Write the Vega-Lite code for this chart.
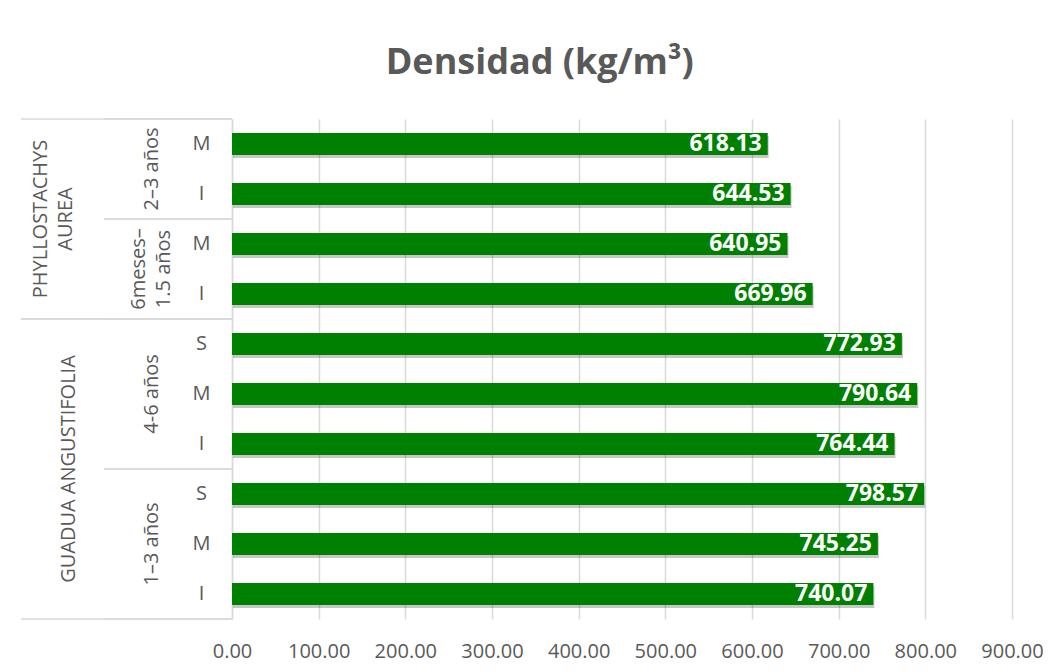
{
  "$schema": "https://vega.github.io/schema/vega-lite/v6.json",
  "background": "white",
  "padding": {"left": 20, "top": 45, "right": 20, "bottom": 10},
  "bounds": "flush",
  "spacing": 0,
  "title": {"text": "Densidad (kg/m³)", "font": "Open Sans", "fontSize": 36, "fontWeight": "bold", "color": "#595959", "anchor": "middle", "offset": 36, "dx": 8},
  "datasets": {
    "filas": [
      {"especie": "PHYLLOSTACHYS AUREA", "edad": "2–3 años", "parte": "M", "densidad": 618.13},
      {"especie": "PHYLLOSTACHYS AUREA", "edad": "2–3 años", "parte": "I", "densidad": 644.53},
      {"especie": "PHYLLOSTACHYS AUREA", "edad": "6meses–1.5 años", "parte": "M", "densidad": 640.95},
      {"especie": "PHYLLOSTACHYS AUREA", "edad": "6meses–1.5 años", "parte": "I", "densidad": 669.96},
      {"especie": "GUADUA ANGUSTIFOLIA", "edad": "4-6 años", "parte": "S", "densidad": 772.93},
      {"especie": "GUADUA ANGUSTIFOLIA", "edad": "4-6 años", "parte": "M", "densidad": 790.64},
      {"especie": "GUADUA ANGUSTIFOLIA", "edad": "4-6 años", "parte": "I", "densidad": 764.44},
      {"especie": "GUADUA ANGUSTIFOLIA", "edad": "1–3 años", "parte": "S", "densidad": 798.57},
      {"especie": "GUADUA ANGUSTIFOLIA", "edad": "1–3 años", "parte": "M", "densidad": 745.25},
      {"especie": "GUADUA ANGUSTIFOLIA", "edad": "1–3 años", "parte": "I", "densidad": 740.07}
    ],
    "grupos": [
      {"nivel": "especie", "texto": "PHYLLOSTACHYS\nAUREA", "primera": "2–3 años|M", "ultima": "6meses–1.5 años|I", "ancla": "2–3 años|I", "n": 4},
      {"nivel": "especie", "texto": "GUADUA ANGUSTIFOLIA", "primera": "4-6 años|S", "ultima": "1–3 años|I", "ancla": "4-6 años|I", "n": 6},
      {"nivel": "edad", "texto": "2–3 años", "primera": "2–3 años|M", "ultima": "2–3 años|I", "ancla": "2–3 años|M", "n": 2},
      {"nivel": "edad", "texto": "6meses–\n1.5 años", "primera": "6meses–1.5 años|M", "ultima": "6meses–1.5 años|I", "ancla": "6meses–1.5 años|M", "n": 2},
      {"nivel": "edad", "texto": "4-6 años", "primera": "4-6 años|S", "ultima": "4-6 años|I", "ancla": "4-6 años|M", "n": 3},
      {"nivel": "edad", "texto": "1–3 años", "primera": "1–3 años|S", "ultima": "1–3 años|I", "ancla": "1–3 años|M", "n": 3}
    ]
  },
  "hconcat": [
    {
      "width": 83,
      "height": 500,
      "data": {"name": "grupos"},
      "transform": [{"filter": "datum.nivel === 'especie'"}],
      "layer": [
        {
          "mark": {"type": "rule", "color": "#d9d9d9", "strokeWidth": 1.5},
          "encoding": {"y": {"field": "primera", "type": "nominal", "bandPosition": 0, "axis": null, "scale": {"domain": ["2–3 años|M", "2–3 años|I", "6meses–1.5 años|M", "6meses–1.5 años|I", "4-6 años|S", "4-6 años|M", "4-6 años|I", "1–3 años|S", "1–3 años|M", "1–3 años|I"], "paddingInner": 0, "paddingOuter": 0}}}
        },
        {
          "mark": {"type": "rule", "color": "#d9d9d9", "strokeWidth": 1.5},
          "encoding": {"y": {"field": "ultima", "type": "nominal", "bandPosition": 1, "axis": null}}
        },
        {
          "transform": [{"filter": "indexof(datum.texto, '\\n') < 0"}],
          "mark": {"type": "text", "angle": 270, "align": "center", "baseline": "bottom", "lineBreak": "\n", "lineHeight": 25, "font": "Open Sans", "fontSize": 20, "color": "#595959", "dy": 16},
          "encoding": {
            "y": {"field": "ancla", "type": "nominal", "bandPosition": 1, "axis": null},
            "text": {"field": "texto"}
          }
        },
        {
          "transform": [{"filter": "indexof(datum.texto, '\\n') >= 0"}],
          "mark": {"type": "text", "angle": 270, "align": "center", "baseline": "bottom", "lineBreak": "\n", "lineHeight": 25, "font": "Open Sans", "fontSize": 20, "color": "#595959", "dy": -12},
          "encoding": {
            "y": {"field": "ancla", "type": "nominal", "bandPosition": 1, "axis": null},
            "text": {"field": "texto"}
          }
        }
      ]
    },
    {
      "width": 128,
      "height": 500,
      "data": {"name": "grupos"},
      "layer": [
        {
          "mark": {"type": "rule", "color": "#d9d9d9", "strokeWidth": 1.5},
          "encoding": {"y": {"field": "primera", "type": "nominal", "bandPosition": 0, "axis": null, "scale": {"domain": ["2–3 años|M", "2–3 años|I", "6meses–1.5 años|M", "6meses–1.5 años|I", "4-6 años|S", "4-6 años|M", "4-6 años|I", "1–3 años|S", "1–3 años|M", "1–3 años|I"], "paddingInner": 0, "paddingOuter": 0}}}
        },
        {
          "mark": {"type": "rule", "color": "#d9d9d9", "strokeWidth": 1.5},
          "encoding": {"y": {"field": "ultima", "type": "nominal", "bandPosition": 1, "axis": null}}
        },
        {
          "transform": [{"filter": "datum.nivel === 'edad' && datum.n % 2 === 0 && indexof(datum.texto, '\\n') < 0"}],
          "mark": {"type": "text", "angle": 270, "align": "center", "baseline": "middle", "lineBreak": "\n", "lineHeight": 25, "font": "Open Sans", "fontSize": 20, "color": "#595959", "dy": -16},
          "encoding": {
            "y": {"field": "ancla", "type": "nominal", "bandPosition": 1, "axis": null},
            "text": {"field": "texto"}
          }
        },
        {
          "transform": [{"filter": "datum.nivel === 'edad' && datum.n % 2 === 0 && indexof(datum.texto, '\\n') >= 0"}],
          "mark": {"type": "text", "angle": 270, "align": "center", "baseline": "middle", "lineBreak": "\n", "lineHeight": 25, "font": "Open Sans", "fontSize": 20, "color": "#595959", "dy": -29},
          "encoding": {
            "y": {"field": "ancla", "type": "nominal", "bandPosition": 1, "axis": null},
            "text": {"field": "texto"}
          }
        },
        {
          "transform": [{"filter": "datum.nivel === 'edad' && datum.n % 2 === 1"}],
          "mark": {"type": "text", "angle": 270, "align": "center", "baseline": "middle", "lineBreak": "\n", "lineHeight": 25, "font": "Open Sans", "fontSize": 20, "color": "#595959", "dy": -16},
          "encoding": {
            "y": {"field": "ancla", "type": "nominal", "bandPosition": 0.5, "axis": null},
            "text": {"field": "texto"}
          }
        }
      ]
    },
    {
      "width": 780,
      "height": 500,
      "data": {"name": "filas"},
      "transform": [{"calculate": "datum.edad + '|' + datum.parte", "as": "clave"}],
      "encoding": {
        "y": {
          "field": "clave", "type": "nominal",
          "scale": {"domain": ["2–3 años|M", "2–3 años|I", "6meses–1.5 años|M", "6meses–1.5 años|I", "4-6 años|S", "4-6 años|M", "4-6 años|I", "1–3 años|S", "1–3 años|M", "1–3 años|I"], "paddingInner": 0, "paddingOuter": 0},
          "axis": {"title": null, "ticks": false, "grid": false, "domainColor": "#d9d9d9", "domainWidth": 1.5, "labelExpr": "split(datum.value, '|')[1]", "labelAlign": "center", "labelPadding": 31, "labelFont": "Open Sans", "labelFontSize": 20, "labelColor": "#595959"}
        },
        "x": {
          "field": "densidad", "type": "quantitative",
          "scale": {"domain": [0, 900], "nice": false, "zero": true},
          "axis": {"title": null, "values": [0, 100, 200, 300, 400, 500, 600, 700, 800, 900], "format": ".2f", "grid": true, "gridColor": "#d9d9d9", "gridWidth": 1.5, "domain": false, "ticks": false, "labelFont": "Open Sans", "labelFontSize": 20, "labelColor": "#595959", "labelPadding": 22, "labelFlush": false, "labelOverlap": false}
        }
      },
      "layer": [
        {"mark": {"type": "bar", "color": "#000000", "opacity": 0.22, "height": {"band": 0.44}, "xOffset": 1, "x2Offset": 3, "yOffset": 3}},
        {"mark": {"type": "bar", "color": "#008000", "height": {"band": 0.44}}},
        {
          "mark": {"type": "text", "align": "right", "baseline": "middle", "dx": -6, "color": "white", "font": "Open Sans", "fontWeight": "bold", "fontSize": 23},
          "encoding": {"text": {"field": "densidad", "type": "quantitative", "format": ".2f"}}
        }
      ]
    }
  ],
  "config": {"view": {"stroke": null}, "font": "Open Sans"}
}
